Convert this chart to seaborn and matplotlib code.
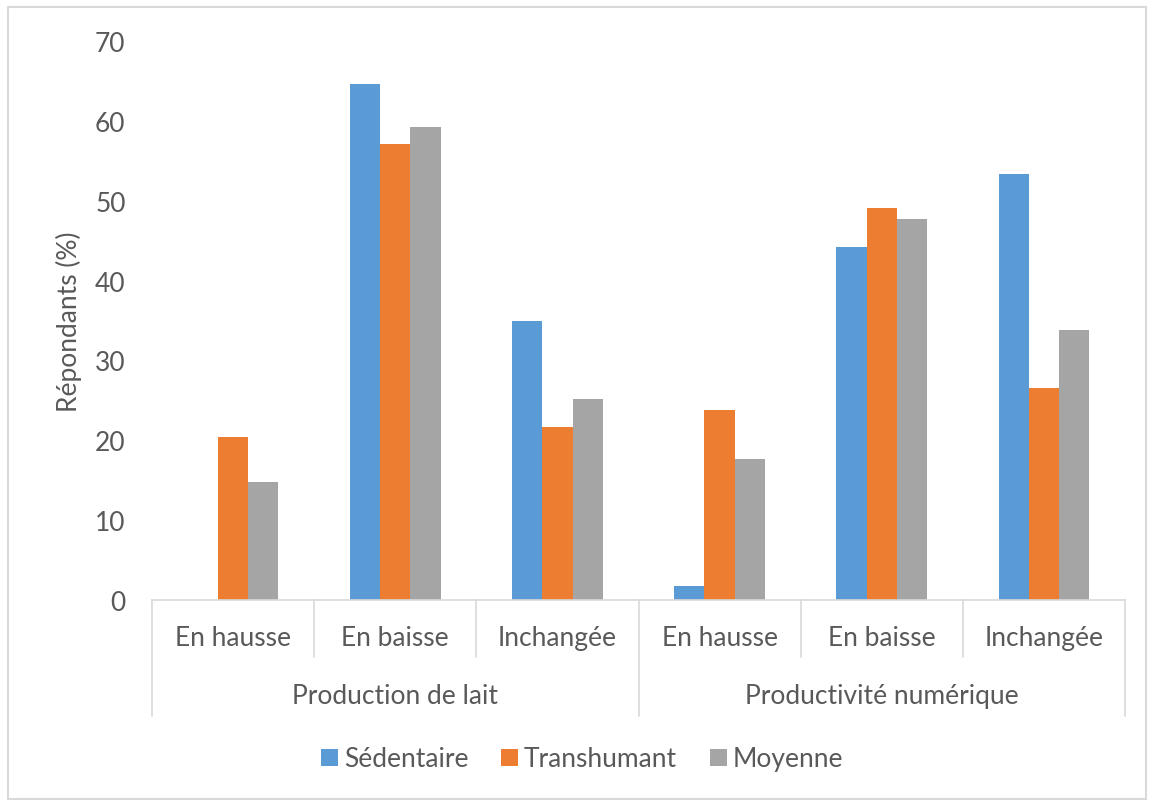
import matplotlib
matplotlib.use("Agg")
import matplotlib.pyplot as plt
import seaborn as sns
import pandas as pd
from matplotlib.patches import Rectangle

# ---- data ----
groups = ["Production de lait", "Productivité numérique"]
subcats = ["En hausse", "En baisse", "Inchangée"]
series = ["Sédentaire", "Transhumant", "Moyenne"]
sedentaire = [0.0, 64.6, 35.0, 1.7, 44.2, 53.4]
transhumant = [20.4, 57.1, 21.7, 23.8, 49.1, 26.5]
moyenne = [14.8, 59.2, 25.2, 17.7, 47.7, 33.8]
yticks = [0, 10, 20, 30, 40, 50, 60, 70]
ylabel = "Répondants (%)"

colors = ["#5B9BD5", "#ED7D31", "#A5A5A5"]
text_color = "#595959"
line_color = "#D9D9D9"
FS = 19

cat_keys = [f"{g}|{s}" for g in groups for s in subcats]
rows = []
for name, vals in zip(series, [sedentaire, transhumant, moyenne]):
    for k, v in zip(cat_keys, vals):
        rows.append({"cat": k, "serie": name, "val": v})
df = pd.DataFrame(rows)

sns.set_style("white")
plt.rcParams["font.family"] = ["Lato", "DejaVu Sans"]

W, H = 1152, 804
fig = plt.figure(figsize=(W / 100, H / 100), dpi=100)
left, right, bottom_px, top_px = 152, 1125, 601, 42
ax = fig.add_axes([left / W, 1 - bottom_px / H, (right - left) / W, (bottom_px - top_px) / H])

sns.barplot(data=df, x="cat", y="val", hue="serie", order=cat_keys, hue_order=series,
            palette=colors, width=0.56, saturation=1, linewidth=0, ax=ax, legend=True)

ax.set_ylim(0, 70)
ax.set_xlim(-0.5, len(cat_keys) - 0.5)
ax.set_yticks(yticks)
ax.set_yticklabels([str(t) for t in yticks], fontsize=FS, color=text_color)
ax.tick_params(axis="y", length=0, pad=19)
ax.tick_params(axis="x", length=0)
ax.set_xticks(range(len(cat_keys)))
ax.set_xticklabels([])
ax.set_xlabel("")
ax.set_ylabel(ylabel, fontsize=FS, color=text_color)
ax.yaxis.set_label_coords(-0.072, 0.5)
ax.grid(False)
for s in ["top", "right", "left"]:
    ax.spines[s].set_visible(False)
ax.spines["bottom"].set_color(line_color)
ax.spines["bottom"].set_linewidth(1.2)

axh = bottom_px - top_px
trans = ax.get_xaxis_transform()
sub_len = (658 - bottom_px) / axh
grp_len = (717 - bottom_px) / axh
n_sub = len(subcats)
for i in range(len(cat_keys) + 1):
    x = i - 0.5
    L = grp_len if i % n_sub == 0 else sub_len
    ax.plot([x, x], [0, -L], transform=trans, color=line_color, lw=1.2, clip_on=False)

for i, k in enumerate(cat_keys):
    ax.text(i, -(639 - bottom_px) / axh, k.split("|")[1], transform=trans,
            ha="center", va="center", fontsize=FS, color=text_color)
for gi, g in enumerate(groups):
    xc = gi * n_sub + (n_sub - 1) / 2
    ax.text(xc, -(697 - bottom_px) / axh, g, transform=trans,
            ha="center", va="center", fontsize=FS, color=text_color)

handles, labels = ax.get_legend_handles_labels()
ax.get_legend().remove()
fig.legend(handles, labels, loc="center", bbox_to_anchor=(582 / W, 1 - 760 / H),
           ncol=3, frameon=False, fontsize=FS, handlelength=0.65, handleheight=0.62,
           handletextpad=0.2, columnspacing=1.25, labelcolor=text_color)

fig.patches.append(Rectangle((8 / W, 4 / H), (1146 - 8) / W, (796 - 4) / H,
                             transform=fig.transFigure, fill=False,
                             edgecolor=line_color, lw=1.5))

fig.savefig("out.png", dpi=100, facecolor="white")
